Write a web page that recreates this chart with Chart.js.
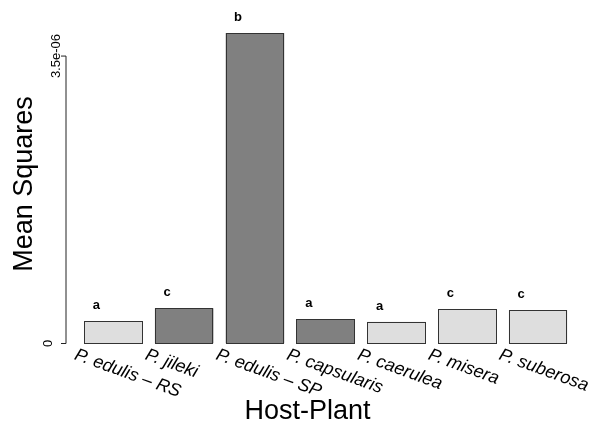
<!DOCTYPE html>
<html>
<head>
<meta charset="utf-8">
<script src="https://cdn.jsdelivr.net/npm/chart.js@4.4.0/dist/chart.umd.min.js"></script>
<style>
    body { margin: 0; background: #ffffff; }
    canvas { display: block; }
</style>
</head>
<body>
<canvas id="grafico" width="597" height="427"></canvas>
<script>
const plantas = ['P. edulis – RS', 'P. jileki', 'P. edulis – SP', 'P. capsularis', 'P. caerulea', 'P. misera', 'P. suberosa']
const mediaQuadrados = [0.270e-6, 0.429e-6, 3.78e-6, 0.295e-6, 0.265e-6, 0.420e-6, 0.404e-6]
const letrasGrupo = ['a', 'c', 'b', 'a', 'a', 'c', 'c']
const plantasEscuras = ['P. jileki', 'P. edulis – SP', 'P. capsularis']
const ticksY = [0, 3.5e-6]
const rotulosY = ['0', '3.5e-06']

const fonte = '"Liberation Sans", Arial, sans-serif'

const desenhoExtra = {
    id: 'desenhoExtra',
    afterDatasetsDraw(chart) {
        const ctx = chart.ctx
        const x = chart.scales.x
        const y = chart.scales.y
        const eixoX = 66
        const meta = chart.getDatasetMeta(0)

        ctx.save()
        // contorno das barras
        ctx.strokeStyle = '#333'
        ctx.lineWidth = 1
        meta.data.forEach(barra => {
            const esq = Math.round(barra.x - barra.width / 2) + 0.5
            const dir = Math.round(barra.x + barra.width / 2) - 0.5
            const topo = Math.round(barra.y) + 0.5
            const base = Math.round(barra.base) - 0.5
            ctx.strokeRect(esq, topo, dir - esq, base - topo)
        })

        ctx.strokeStyle = '#222'
        ctx.beginPath()
        ctx.moveTo(eixoX, y.getPixelForValue(ticksY[0]))
        ctx.lineTo(eixoX, y.getPixelForValue(ticksY[ticksY.length - 1]))
        ticksY.forEach(v => {
            const py = y.getPixelForValue(v)
            ctx.moveTo(eixoX, py)
            ctx.lineTo(eixoX - 5, py)
        })
        ctx.stroke()

        // rotulos do eixo y, girados
        ctx.fillStyle = '#000'
        ctx.font = '13px ' + fonte
        ctx.textAlign = 'center'
        ctx.textBaseline = 'alphabetic'
        const deslocY = [14, 6]
        ticksY.forEach((v, i) => {
            ctx.save()
            ctx.translate(eixoX - deslocY[i], y.getPixelForValue(v))
            ctx.rotate(-Math.PI / 2)
            ctx.fillText(rotulosY[i], 0, 0)
            ctx.restore()
        })

        // letras acima das barras
        ctx.font = 'bold 13px ' + fonte
        meta.data.forEach((barra, i) => {
            ctx.fillText(letrasGrupo[i], barra.x - 17, barra.y - 12)
        })

        // rotulos das plantas
        ctx.font = 'italic 18px ' + fonte
        ctx.textAlign = 'left'
        plantas.forEach((planta, i) => {
            ctx.save()
            ctx.translate(x.getPixelForValue(i) - 40, 359)
            ctx.rotate(20 * Math.PI / 180)
            ctx.fillText(planta, 0, 0)
            ctx.restore()
        })

        // titulos
        ctx.font = '27px ' + fonte
        ctx.textAlign = 'center'
        ctx.fillText('Host-Plant', 307.5, 419)
        ctx.save()
        ctx.translate(32, 184)
        ctx.rotate(-Math.PI / 2)
        ctx.fillText('Mean Squares', 0, 0)
        ctx.restore()
        ctx.restore()
    }
}

new Chart(document.getElementById('grafico'), {
    type: 'bar',
    data: {
        labels: plantas,
        datasets: [{
            data: mediaQuadrados,
            backgroundColor: c => plantasEscuras.includes(plantas[c.dataIndex]) ? '#808080' : '#dedede',
            borderWidth: 0,
            categoryPercentage: 1,
            barPercentage: 0.827
        }]
    },
    options: {
        responsive: false,
        animation: false,
        devicePixelRatio: 1,
        layout: {
            padding: { left: 78, right: 23.5, top: 15, bottom: 83.5 }
        },
        scales: {
            x: { display: false },
            y: { display: false, min: 0, max: 4e-6 }
        },
        plugins: {
            legend: { display: false },
            tooltip: { enabled: false }
        }
    },
    plugins: [desenhoExtra]
})
</script>
</body>
</html>
